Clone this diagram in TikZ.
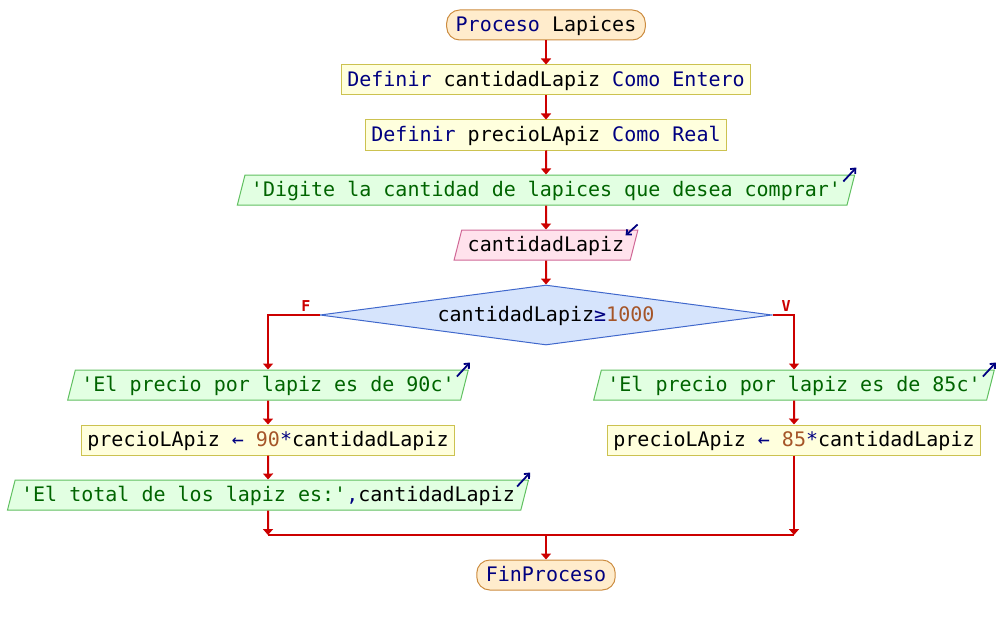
\documentclass[tikz,border=0pt]{standalone}
\usepackage{fontspec}
\setmonofont{DejaVu Sans Mono}
\usepackage{tikz}
\usetikzlibrary{arrows.meta,shapes,positioning}
\usepackage{xcolor}
\definecolor{psnavy}{RGB}{0,0,128}
\definecolor{psgreen}{RGB}{0,100,0}
\definecolor{psbrown}{RGB}{165,85,40}
\definecolor{psred}{RGB}{204,0,0}
\definecolor{termfill}{RGB}{255,236,204}
\definecolor{termdraw}{RGB}{204,140,64}
\definecolor{deffill}{RGB}{255,255,221}
\definecolor{defdraw}{RGB}{204,194,80}
\definecolor{outfill}{RGB}{226,255,226}
\definecolor{outdraw}{RGB}{96,192,96}
\definecolor{infill}{RGB}{255,226,236}
\definecolor{indraw}{RGB}{208,104,150}
\definecolor{condfill}{RGB}{214,228,252}
\definecolor{conddraw}{RGB}{64,104,204}
\newcommand{\pkw}[1]{\textcolor{psnavy}{#1}}
\newcommand{\pstr}[1]{\textcolor{psgreen}{#1}}
\newcommand{\pnum}[1]{\textcolor{psbrown}{#1}}
\tikzstyle{pseudo} = [font=\ttfamily\fontsize{20bp}{24bp}\selectfont, text=black, text height=17bp, text depth=4bp, minimum height=30bp, inner ysep=0pt, line width=1bp]
\tikzstyle{terminal} = [pseudo, rectangle, rounded corners=13bp, draw=termdraw, fill=termfill, inner xsep=9bp]
\tikzstyle{assign} = [pseudo, rectangle, draw=defdraw, fill=deffill, inner xsep=5.5bp]
\tikzstyle{outbox} = [pseudo, trapezium, trapezium left angle=70, trapezium right angle=110, trapezium stretches=true, draw=outdraw, fill=outfill, inner xsep=6bp]
\tikzstyle{inbox} = [outbox, draw=indraw, fill=infill]
\tikzstyle{decision} = [pseudo, diamond, aspect=7.53, draw=conddraw, fill=condfill, minimum width=452bp, minimum height=60bp, inner sep=0pt]
\tikzstyle{arrow} = [line width=2bp, ->, >={Triangle[length=6bp,width=10bp]}, color=psred]
\tikzstyle{link} = [line width=2bp, color=psred]
\tikzstyle{flag} = [font=\ttfamily\bfseries\fontsize{15bp}{16bp}\selectfont, text=psred, inner sep=0pt]
\tikzstyle{icon} = [line width=1.8bp, ->, >={Straight Barb[length=4bp,width=7bp]}, color=psnavy]

\begin{document}
\begin{tikzpicture}[x=1bp, y=1bp, node distance=55bp]
\useasboundingbox (0,0) rectangle (1002,-625);
% Main column
\node (inicio) [terminal] at (546,-25) {\pkw{Proceso} Lapices};
\node (defcant) [assign, below of=inicio] {\pkw{Definir} cantidadLapiz \pkw{Como Entero}};
\node (defprecio) [assign, below of=defcant] {\pkw{Definir} precioLApiz \pkw{Como Real}};
\node (pedir) [outbox, below of=defprecio] {\pstr{'Digite la cantidad de lapices que desea comprar'}};
\node (leer) [inbox, below of=pedir] {cantidadLapiz};
\node (cond) [decision, below of=leer, yshift=-15bp] {cantidadLapiz\pkw{≥}\pnum{1000}};

% Branch F
\node (msg90) [outbox, below of=cond, xshift=-278bp, yshift=-15bp] {\pstr{'El precio por lapiz es de 90c'}};
\node (calc90) [assign, below of=msg90] {precioLApiz \pkw{←} \pnum{90}\pkw{*}cantidadLapiz};
\node (total) [outbox, below of=calc90] {\pstr{'El total de los lapiz es:'}\pkw{,}cantidadLapiz};

% Branch V
\node (msg85) [outbox, below of=cond, xshift=248bp, yshift=-15bp] {\pstr{'El precio por lapiz es de 85c'}};
\node (calc85) [assign, below of=msg85] {precioLApiz \pkw{←} \pnum{85}\pkw{*}cantidadLapiz};

% Join and end
\coordinate (joinL) at ([yshift=-40bp]total.center);
\coordinate (joinR) at (calc85 |- joinL);
\coordinate (joinC) at (cond |- joinL);
\node (fin) [terminal, below of=joinC, node distance=40bp] {\pkw{FinProceso}};

% Arrows
\draw[arrow] (inicio) -- (defcant);
\draw[arrow] (defcant) -- (defprecio);
\draw[arrow] (defprecio) -- (pedir);
\draw[arrow] (pedir) -- (leer);
\draw[arrow] (leer) -- (cond);
\draw[arrow] (cond.west) -| (msg90);
\draw[arrow] (cond.east) -| (msg85);
\draw[arrow] (msg90) -- (calc90);
\draw[arrow] (calc90) -- (total);
\draw[arrow] (total) -- (joinL);
\draw[arrow] (msg85) -- (calc85);
\draw[arrow] (calc85) -- (joinR);
\draw[link] (joinL) -- (joinR);
\draw[arrow] (joinC) -- (fin);

% Branch labels
\node[flag, above left=3bp and 9bp of cond.west] {F};
\node[flag, above right=3bp and 9bp of cond.east] {V};

% In/out marks
\draw[icon] ([shift={(-12,-7)}]pedir.top right corner) -- ++(13,14);
\draw[icon] ([shift={(-12,-7)}]msg90.top right corner) -- ++(13,14);
\draw[icon] ([shift={(-12,-7)}]total.top right corner) -- ++(13,14);
\draw[icon] ([shift={(-12,-7)}]msg85.top right corner) -- ++(13,14);
\draw[icon] ([shift={(-1,5)}]leer.top right corner) -- ++(-12,-11);
\end{tikzpicture}
\end{document}
